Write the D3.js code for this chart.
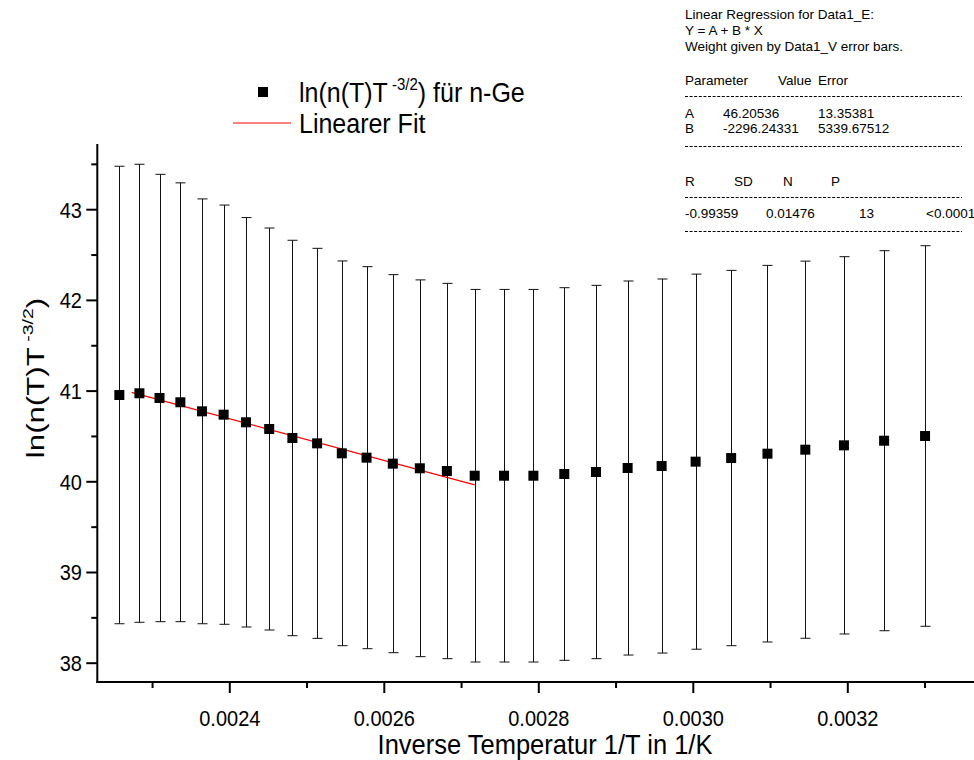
<!DOCTYPE html>
<html><head><meta charset="utf-8">
<script src="https://cdn.jsdelivr.net/npm/d3@7"></script>
<style>
body{margin:0;background:#fff;}
svg{display:block;font-family:"Liberation Sans",Arial,sans-serif;}
</style></head>
<body>
<svg id="c" width="974" height="760"></svg>
<script>
// Inverse temperature values (1/K)
const invT = [0.002257,0.002283,0.002309,0.002336,0.002364,0.002392,0.002421,0.002451,0.002481,0.002513,
  0.002545,0.002577,0.002611,0.002646,0.002681,0.002717,0.002755,0.002793,0.002833,0.002874,
  0.002915,0.002959,0.003003,0.003049,0.003096,0.003145,0.003195,0.003247,0.003300];
// ln(n(T) T^-3/2)
const lnValues = [40.957,40.976,40.924,40.877,40.777,40.740,40.656,40.582,40.483,40.424,
  40.314,40.266,40.200,40.149,40.119,40.067,40.067,40.067,40.086,40.108,
  40.152,40.174,40.222,40.262,40.310,40.354,40.402,40.453,40.505];
// symmetric error bar half-widths
const errValues = [2.522,2.525,2.466,2.419,2.342,2.311,2.257,2.216,2.180,2.150,
  2.121,2.106,2.084,2.077,2.069,2.054,2.054,2.054,2.054,2.058,
  2.062,2.062,2.068,2.069,2.076,2.079,2.080,2.095,2.098];
// linear fit Y = A + B*X
const fitA = 46.20536, fitB = -2296.24331;
const fitRange = [0.002273, 0.002717];
const xMajorTicks = [0.0024,0.0026,0.0028,0.0030,0.0032];
const xMinorTicks = [0.0023,0.0025,0.0027,0.0029,0.0031,0.0033];
const yMajorTicks = [38,39,40,41,42,43];
const yMinorTicks = [38.5,39.5,40.5,41.5,42.5,43.5];
const regLines = ["Linear Regression for Data1_E:","Y = A + B * X","Weight given by Data1_V error bars."];
const paramHeader = ["Parameter","Value","Error"];
const paramRows = [["A","46.20536","13.35381"],["B","-2296.24331","5339.67512"]];
const statHeader = ["R","SD","N","P"];
const statRow = ["-0.99359","0.01476","13","<0.0001"];

const svg = d3.select("#c");
const x = d3.scaleLinear().domain([0.0024,0.0034]).range([229.8, 229.8+772.5]);
const y = d3.scaleLinear().domain([43,38]).range([209.7, 209.7+5*90.7]);
const axL = 97.3, axB = 682, axT = 144, axR = 974;
const SY = 1.1; // vertical stretch of the original rendering

function stext(px, py, size, anchor, str){
  return svg.append("g").attr("transform",`translate(${px},${py}) scale(1,${SY})`)
    .append("text").attr("x",0).attr("y",0).attr("font-size",size)
    .attr("text-anchor",anchor).text(str);
}

// axes lines
svg.append("line").attr("x1",axL).attr("x2",axL).attr("y1",axT).attr("y2",axB+1)
  .attr("stroke","#000").attr("stroke-width",2);
svg.append("line").attr("x1",axL-1).attr("x2",axR).attr("y1",axB).attr("y2",axB)
  .attr("stroke","#000").attr("stroke-width",2);

// y ticks
svg.selectAll(".ymaj").data(yMajorTicks).join("line")
  .attr("x1",axL-11).attr("x2",axL).attr("y1",d=>y(d)).attr("y2",d=>y(d))
  .attr("stroke","#000").attr("stroke-width",2);
svg.selectAll(".ymin").data(yMinorTicks).join("line")
  .attr("x1",axL-6).attr("x2",axL).attr("y1",d=>y(d)).attr("y2",d=>y(d))
  .attr("stroke","#000").attr("stroke-width",2);
yMajorTicks.forEach(d=>stext(82, y(d)+7.8, 20, "end", d));

// x ticks
svg.selectAll(".xmaj").data(xMajorTicks).join("line")
  .attr("x1",d=>x(d)).attr("x2",d=>x(d)).attr("y1",axB).attr("y2",axB+11)
  .attr("stroke","#000").attr("stroke-width",2);
svg.selectAll(".xmin").data(xMinorTicks).join("line")
  .attr("x1",d=>x(d)).attr("x2",d=>x(d)).attr("y1",axB).attr("y2",axB+6)
  .attr("stroke","#000").attr("stroke-width",2);
xMajorTicks.forEach(d=>stext(x(d), 726, 20, "middle", d3.format(".4f")(d)));

// axis titles
stext(545, 754, 25.5, "middle", "Inverse Temperatur 1/T in 1/K");
const yt = svg.append("text").attr("transform","translate(44,378) rotate(-90) scale(1.3,1)")
  .attr("text-anchor","middle").attr("font-size",24);
yt.append("tspan").text("ln(n(T)T");
yt.append("tspan").attr("font-size",15).attr("dy",-11).text(" -3/2");
yt.append("tspan").attr("dy",11).text(")");

// error bars
const pts = invT.map((v,i)=>({x:v,y:lnValues[i],e:errValues[i]}));
const eb = svg.append("g").attr("stroke","#111").attr("stroke-width",1);
pts.forEach(p=>{
  const px = Math.round(x(p.x))+0.5;
  eb.append("line").attr("x1",px).attr("x2",px).attr("y1",y(p.y+p.e)).attr("y2",y(p.y-p.e));
  eb.append("line").attr("x1",px-5).attr("x2",px+5).attr("y1",y(p.y+p.e)).attr("y2",y(p.y+p.e));
  eb.append("line").attr("x1",px-5).attr("x2",px+5).attr("y1",y(p.y-p.e)).attr("y2",y(p.y-p.e));
});

// fit line
svg.append("line").attr("x1",x(fitRange[0])).attr("y1",y(fitA+fitB*fitRange[0]))
  .attr("x2",x(fitRange[1])).attr("y2",y(fitA+fitB*fitRange[1]))
  .attr("stroke","#ff0000").attr("stroke-width",1.2);

// points
svg.selectAll(".pt").data(pts).join("rect")
  .attr("x",d=>x(d.x)-5).attr("y",d=>y(d.y)-5).attr("width",10).attr("height",10)
  .attr("fill","#000");

// legend
svg.append("rect").attr("x",258).attr("y",87).attr("width",10).attr("height",10).attr("fill","#000");
const lg = svg.append("g").attr("transform",`translate(299,102) scale(1,${SY})`)
  .append("text").attr("x",0).attr("y",0).attr("font-size",25);
lg.append("tspan").text("ln(n(T)T");
lg.append("tspan").attr("font-size",15).attr("dy",-11).text(" -3/2");
lg.append("tspan").attr("dy",11).text(") für n-Ge");
svg.append("line").attr("x1",233).attr("x2",291).attr("y1",123).attr("y2",123)
  .attr("stroke","#ff0000").attr("stroke-width",1);
stext(299, 133, 25, "start", "Linearer Fit");

// regression box
const rb = svg.append("g").attr("font-size",13.5).attr("fill","#000");
regLines.forEach((t,i)=>rb.append("text").attr("x",685).attr("y",[19,35,51][i]).text(t));
const pcols=[685,778,818];
paramHeader.forEach((t,i)=>rb.append("text").attr("x",pcols[i]).attr("y",85).text(t));
const rcols=[685,723,818];
paramRows.forEach((r,j)=>r.forEach((t,i)=>rb.append("text").attr("x",rcols[i]).attr("y",[118,133][j]).text(t)));
const scols=[685,734,783,831];
statHeader.forEach((t,i)=>rb.append("text").attr("x",scols[i]).attr("y",186).text(t));
const vcols=[685,766,859,926];
statRow.forEach((t,i)=>rb.append("text").attr("x",vcols[i]).attr("y",218).text(t));
[96,146,197,231].forEach(yy=>{
  svg.append("line").attr("x1",685).attr("x2",962).attr("y1",yy+0.5).attr("y2",yy+0.5)
    .attr("stroke","#000").attr("stroke-width",1).attr("stroke-dasharray","3,1.6");
});
</script>
</body></html>
